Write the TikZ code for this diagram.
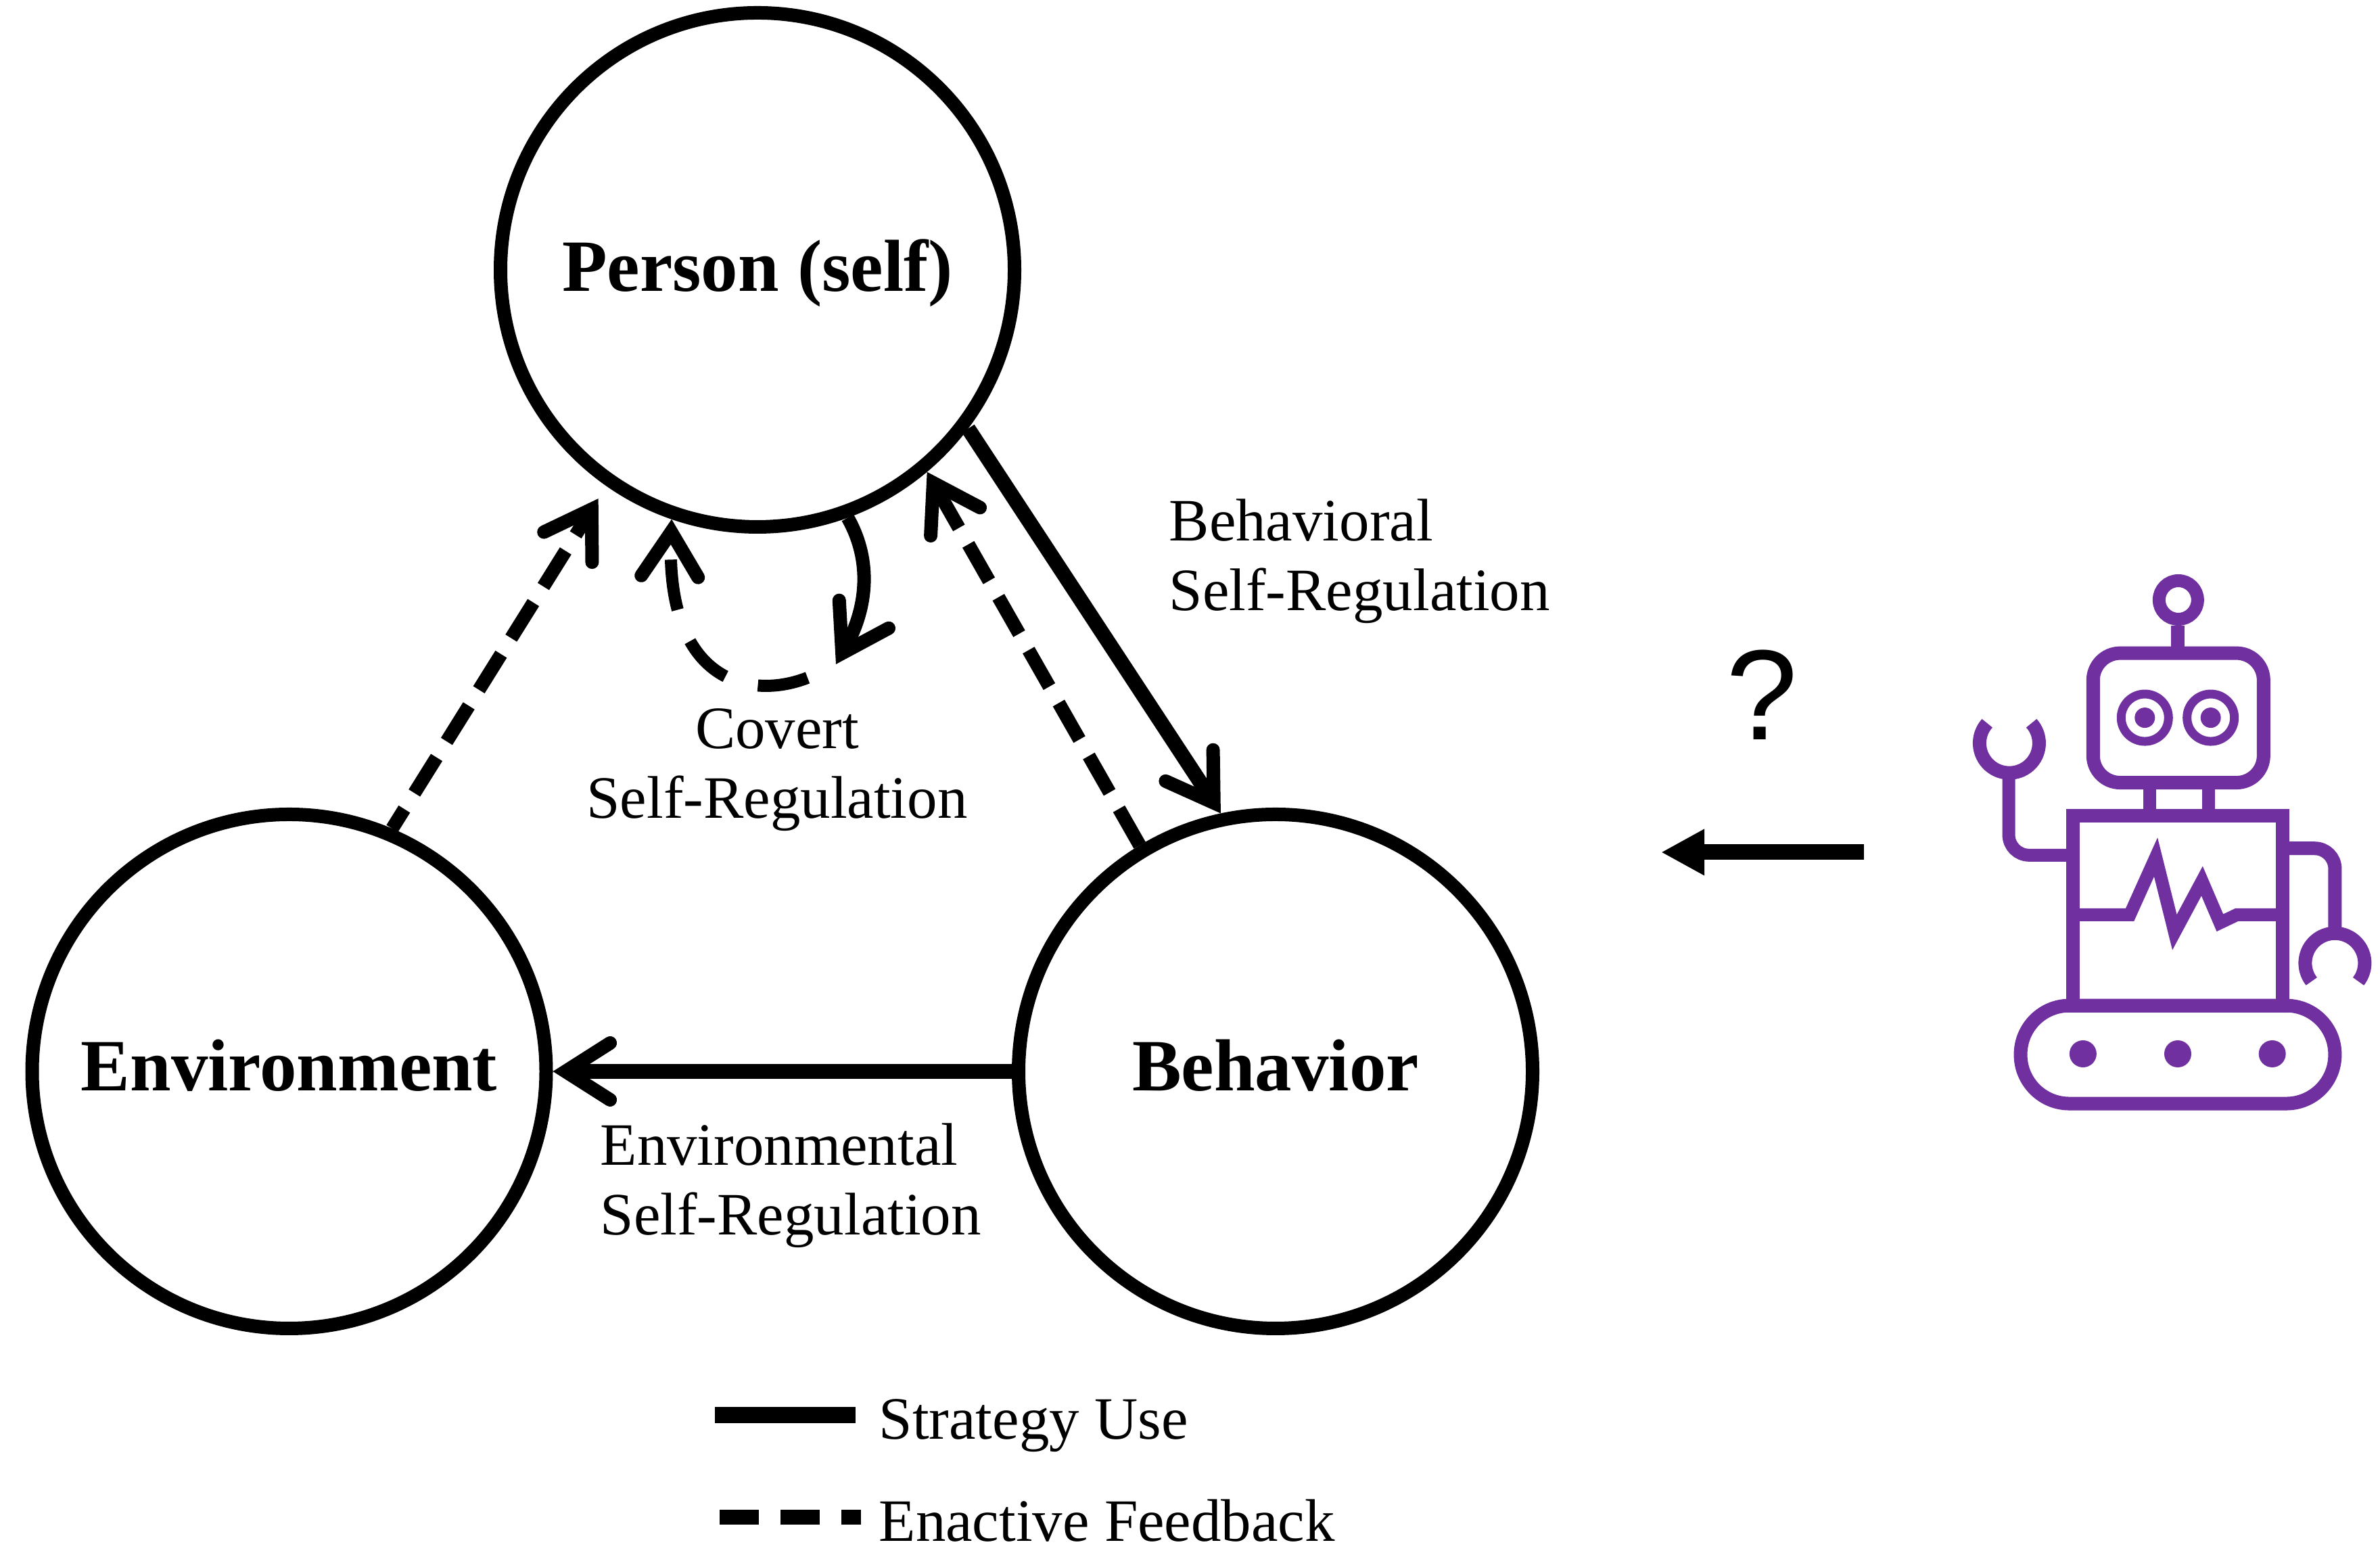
\documentclass[tikz,border=0pt]{standalone}
\usepackage{fontspec}
\setmainfont{Liberation Serif}
\newfontfamily\quefont{Liberation Sans}
\usetikzlibrary{arrows.meta}
\definecolor{robotpurple}{HTML}{7030A0}
\newcommand{\liftname}[2]{\raisebox{#1}[\height][\depth]{#2}}

\begin{document}
\begin{tikzpicture}[
  factor node/.style={draw, circle, line width=0.2cm, inner sep=0pt, minimum size=7.6cm,
    font=\fontsize{31pt}{34pt}\selectfont\bfseries},
  label node/.style={inner sep=0pt, align=left, font=\fontsize{25.3pt}{29.3pt}\selectfont},
  open tip/.style={>={Straight Barb[length=0.66cm, width=0.84cm, line width=0.2cm, line cap=round, line join=miter]}},
  strategy edge/.style={->, open tip, line width=0.22cm},
  feedback edge/.style={->, open tip, line width=0.2cm, dash pattern=on 0.62cm off 0.28cm},
  robot line/.style={draw=robotpurple, line width=0.2cm}
]
\useasboundingbox (0,0) rectangle (35.19,22.93);

\node[factor node] (person) at (11.20, 18.94) {\liftname{-0.05cm}{Person (self)}};
\node[factor node] (environment) at (4.275, 7.09) {\liftname{0.09cm}{Environment}};
\node[factor node] (behavior) at (18.86, 7.09) {\liftname{0.09cm}{Behavior}};

\node[label node, anchor=west] (behavioral) at (17.28, 14.63) {Behavioral\\Self-Regulation};
\node[label node, align=center] (covert) at (11.49, 11.55) {Covert\\Self-Regulation};
\node[label node, anchor=west] (environmental) at (8.87, 5.40) {Environmental\\Self-Regulation};

\draw[strategy edge] (person.-37) -- (behavior.102);
\draw[strategy edge] (behavior.180) -- (environment.0);
\draw[feedback edge] (behavior.121) -- (person.-50);
\draw[feedback edge, dash phase=0.28cm, shorten >=0.22cm] (environment.67) -- (person.235);

\coordinate (covert tip) at (12.36, 13.11);
\coordinate (covert tail) at (11.94, 12.91);
\draw[->, open tip, line width=0.2cm] (person.-70) .. controls (12.90, 14.63) and (12.82, 13.93) .. (covert tip);
\draw[->, open tip, line width=0.18cm, dash pattern=on 0.75cm off 0.5cm] (covert tail) .. controls (11.10, 12.58) and (9.85, 12.83) .. (person.251);

\node[label node, anchor=base west] (strategy) at (12.99, 1.65) {Strategy Use};
\node[label node, anchor=base west] (feedback) at (12.99, 0.14) {Enactive Feedback};
\coordinate (strategy a) at (10.57, 2.01);
\coordinate (strategy b) at (12.65, 2.01);
\coordinate (feedback a) at (10.64, 0.50);
\coordinate (feedback b) at (12.73, 0.50);
\draw[line width=0.24cm] (strategy a) -- (strategy b);
\draw[line width=0.22cm, dash pattern=on 0.58cm off 0.32cm] (feedback a) -- (feedback b);

\node[inner sep=0pt, font=\fontsize{54pt}{60pt}\selectfont\quefont] (question) at (26.05, 12.66) {?};
\coordinate (robot tail) at (27.56, 10.33);
\coordinate (robot tip) at (24.56, 10.33);
\draw[-{Triangle[length=0.64cm, width=0.64cm]}, line width=0.23cm] (robot tail) -- (robot tip);

\begin{scope}[shift={(28.5, 14.93)}, x=0.004266cm, y=-0.00561cm]
\draw[robot line, line width=0.19cm] (868, 155) circle[radius=0.285cm];
\draw[robot line] (866, 222) -- (866, 295);
\draw[robot line, rounded corners=0.4cm] (573, 295) rectangle (1163, 636);
\draw[robot line, line width=0.13cm] (752, 465) circle[radius=0.35cm];
\draw[robot line, line width=0.13cm] (980, 465) circle[radius=0.35cm];
\fill[robotpurple] (752, 465) circle[radius=0.15cm];
\fill[robotpurple] (980, 465) circle[radius=0.15cm];
\draw[robot line, line width=0.19cm] (768, 636) -- (768, 724);
\draw[robot line, line width=0.19cm] (973, 636) -- (973, 724);
\draw[robot line, line width=0.19cm, rounded corners=0.3cm] (281, 610) -- (281, 827) -- (503, 827);
\draw[robot line] (283, 532) ++(138:0.44cm) arc[start angle=138, end angle=402, radius=0.44cm];
\draw[robot line, rounded corners=0.3cm] (1228, 809) -- (1410, 809) -- (1410, 1040);
\draw[robot line] (1410, 1111) ++(218:0.44cm) arc[start angle=218, end angle=-38, radius=0.44cm];
\draw[robot line, line width=0.19cm] (503, 984) -- (700, 984) -- (790, 832) -- (855, 1030) -- (950, 895) -- (1012, 1005) -- (1070, 984) -- (1228, 984);
\draw[robot line, rounded corners=0.72cm] (322, 1223) rectangle (1410, 1481);
\draw[robot line] (503, 724) rectangle (1228, 1224);
\fill[robotpurple] (538, 1350) circle[radius=0.2cm];
\fill[robotpurple] (866, 1350) circle[radius=0.2cm];
\fill[robotpurple] (1193, 1350) circle[radius=0.2cm];
\end{scope}
\end{tikzpicture}
\end{document}
